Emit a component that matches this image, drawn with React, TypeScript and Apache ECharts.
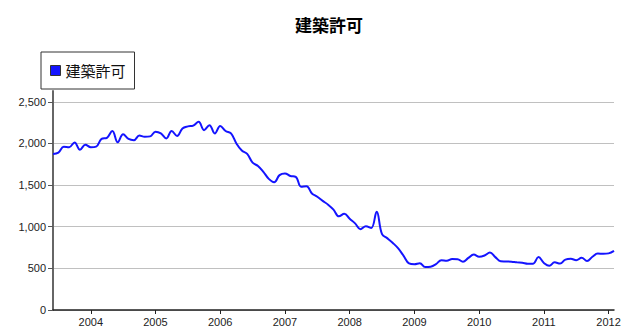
import React, { useEffect, useRef } from "react";
import * as echarts from "echarts";

const TITLE = "建築許可";
const SERIES_NAME = "建築許可";
const START_YEAR = 2003;
const START_MONTH = 6;
const END_YEAR = 2012;
const END_MONTH = 2;

const values2003 = [1874, 1890, 1960, 1955, 2013, 1925, 1985];
const values2004 = [1955, 1962, 2055, 2068, 2150, 2015, 2110, 2055, 2040, 2095, 2080, 2085];
const values2005 = [2140, 2120, 2060, 2150, 2090, 2180, 2205, 2215, 2260, 2160, 2220, 2120];
const values2006 = [2210, 2150, 2120, 2000, 1915, 1875, 1770, 1730, 1660, 1575, 1535, 1620];
const values2007 = [1640, 1610, 1600, 1480, 1487, 1400, 1360, 1310, 1265, 1205, 1125, 1155];
const values2008 = [1095, 1040, 970, 1005, 985, 1180, 910, 860, 805, 740, 650, 560];
const values2009 = [550, 562, 515, 520, 550, 598, 590, 612, 610, 580, 625, 666];
const values2010 = [640, 655, 690, 635, 585, 583, 580, 572, 568, 555, 556, 635];
const values2011 = [565, 530, 572, 558, 605, 614, 598, 628, 588, 640, 678, 675];
const values2012 = [680, 710];

const yTicks = [0, 500, 1000, 1500, 2000, 2500];

function buildMonths(): string[] {
  const out: string[] = [];
  let y = START_YEAR;
  let m = START_MONTH;
  while (y < END_YEAR || (y === END_YEAR && m <= END_MONTH)) {
    out.push(`${y}-${String(m).padStart(2, "0")}`);
    m++;
    if (m > 12) {
      m = 1;
      y++;
    }
  }
  return out;
}

export default function App() {
  const ref = useRef<HTMLDivElement>(null);
  useEffect(() => {
    document.body.style.margin = "0";
    if (!ref.current) return;
    const chart = echarts.init(ref.current, undefined, { renderer: "svg" });
    const months = buildMonths();
    const values = [
      ...values2003,
      ...values2004,
      ...values2005,
      ...values2006,
      ...values2007,
      ...values2008,
      ...values2009,
      ...values2010,
      ...values2011,
      ...values2012,
    ];
    const isJan = (_i: number, v: string) => v.endsWith("-01");
    chart.setOption({
      animation: false,
      backgroundColor: "#ffffff",
      title: {
        text: TITLE,
        left: 290,
        top: 11,
        textStyle: {
          fontFamily: "'Noto Sans CJK JP', sans-serif",
          fontSize: 17,
          fontWeight: "bold",
          color: "#000",
        },
      },
      legend: {
        data: [SERIES_NAME],
        left: 41,
        top: 52,
        padding: [11, 9, 11, 9],
        borderColor: "#333",
        borderWidth: 1,
        backgroundColor: "#fff",
        itemWidth: 10,
        itemHeight: 10,
        icon: "rect",
        itemStyle: { borderColor: "#333", borderWidth: 1 },
        textStyle: {
          fontFamily: "'Noto Sans CJK JP', sans-serif",
          fontSize: 15,
          color: "#111",
        },
      },
      grid: { left: 53, right: 26, top: 91, bottom: 26, containLabel: false },
      xAxis: {
        type: "category",
        data: months,
        boundaryGap: false,
        axisLine: { lineStyle: { color: "#222", width: 1.5 } },
        axisTick: { interval: isJan, length: 4, lineStyle: { color: "#222" } },
        axisLabel: {
          interval: isJan,
          formatter: (v: string) => v.slice(0, 4),
          margin: 6,
          fontFamily: "'Liberation Sans', Arial, sans-serif",
          fontSize: 11,
          color: "#222",
        },
        splitLine: { show: false },
      },
      yAxis: {
        type: "value",
        min: 0,
        max: 2630,
        interval: 500,
        axisLine: { show: true, lineStyle: { color: "#666", width: 2 } },
        axisTick: {
          show: true,
          length: 5,
          customValues: yTicks,
          lineStyle: { color: "#555" },
        },
        axisLabel: {
          customValues: yTicks,
          formatter: (v: number) => v.toLocaleString("en-US"),
          margin: 7,
          fontFamily: "'Liberation Sans', Arial, sans-serif",
          fontSize: 11,
          color: "#222",
        },
        splitLine: {
          show: true,
          lineStyle: { color: "#c0c0c0", width: 1 },
        },
      },
      series: [
        {
          name: SERIES_NAME,
          type: "line",
          data: values,
          smooth: 0.4,
          symbol: "none",
          color: "#1414ff",
          lineStyle: { color: "#1414ff", width: 2 },
        },
      ],
    });
    return () => chart.dispose();
  }, []);
  return <div ref={ref} style={{ width: 640, height: 336 }} />;
}
